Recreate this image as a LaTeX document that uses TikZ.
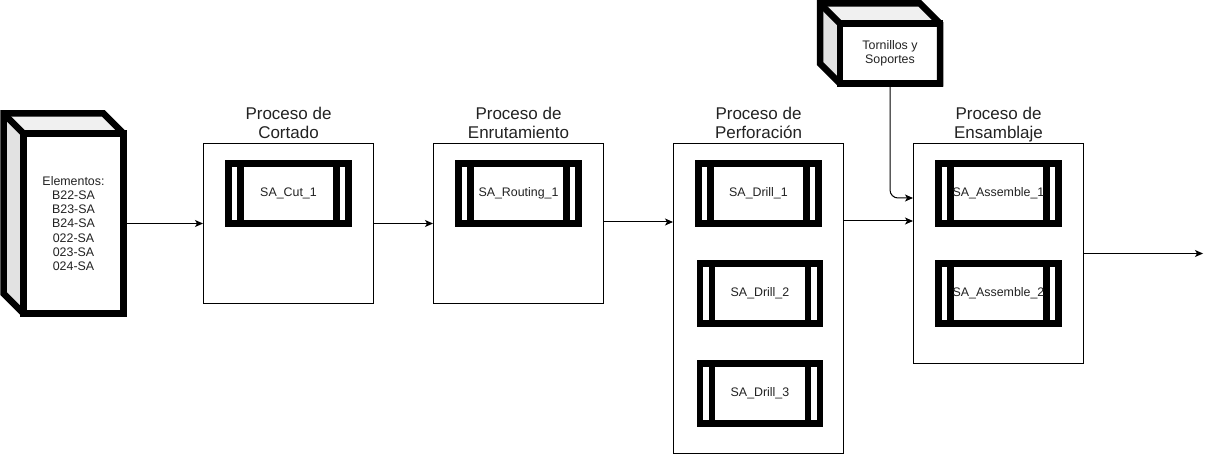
\documentclass[tikz,border=0pt]{standalone}
\usepackage{fontspec}
\setmainfont{Liberation Sans}
\usetikzlibrary{arrows.meta,calc}
\definecolor{txt}{HTML}{222222}
\definecolor{topface}{HTML}{F0F0F0}
\definecolor{sideface}{HTML}{E2E2E2}
\tikzset{
  small/.style={font=\fontsize{12.4}{14.2}\selectfont, text=txt},
  container/.style={draw=black, line width=1pt, fill=white, minimum width=170pt, inner sep=0pt},
  title/.style={font=\fontsize{17}{19}\selectfont, text=txt, align=center, anchor=south, inner sep=0pt},
  proc/.style={draw=black, line width=6.5pt, fill=white, minimum width=120pt, minimum height=60pt, inner sep=0pt, small,
    path picture={
      \draw[line width=6.5pt] ([xshift=12pt]path picture bounding box.north west) -- ([xshift=12pt]path picture bounding box.south west);
      \draw[line width=6.5pt] ([xshift=-12pt]path picture bounding box.north east) -- ([xshift=-12pt]path picture bounding box.south east);
    }},
  cubefront/.style={draw=black, line width=6.5pt, fill=white, inner sep=0pt, outer sep=0pt, align=center, small},
  cubeline/.style={line width=6.5pt, line join=miter},
  arr/.style={draw=black, line width=1pt, -{Stealth[length=8pt,width=7pt,inset=2pt]}}
}
\begin{document}
\begin{tikzpicture}[x=1pt,y=-1pt]
\useasboundingbox (0,0) rectangle (1214,454);

% --- left cube (Elementos)
\node[cubefront, minimum width=100pt, minimum height=180pt] (elem) at (73.5,223.5)
  {Elementos:\\B22-SA\\B23-SA\\B24-SA\\022-SA\\023-SA\\024-SA};
\fill[topface] (elem.north west) -- ++(-20,-20) -- ++(100,0) -- (elem.north east) -- cycle;
\fill[sideface] (elem.north west) -- ++(-20,-20) -- ++(0,180) -- (elem.south west) -- cycle;
\draw[cubeline] ($(elem.north west)+(-20,-20)$) -- ++(100,0) -- (elem.north east) -- (elem.south east)
  -- (elem.south west) -- ++(-20,-20) -- cycle;
\draw[cubeline] ($(elem.north west)+(-20,-20)$) -- (elem.north west) -- (elem.north east);
\draw[cubeline] (elem.north west) -- (elem.south west);

% --- top cube (Tornillos)
\node[cubefront, minimum width=100pt, minimum height=60pt] (torn) at (890,53.5)
  {Tornillos y\\Soportes};
\fill[topface] (torn.north west) -- ++(-20,-20) -- ++(100,0) -- (torn.north east) -- cycle;
\fill[sideface] (torn.north west) -- ++(-20,-20) -- ++(0,60) -- (torn.south west) -- cycle;
\draw[cubeline] ($(torn.north west)+(-20,-20)$) -- ++(100,0) -- (torn.north east) -- (torn.south east)
  -- (torn.south west) -- ++(-20,-20) -- cycle;
\draw[cubeline] ($(torn.north west)+(-20,-20)$) -- (torn.north west) -- (torn.north east);
\draw[cubeline] (torn.north west) -- (torn.south west);

% --- containers
\node[container, minimum height=160pt] (cort) at (288.5,223.5) {};
\node[container, minimum height=160pt] (enr) at (518.5,223.5) {};
\node[container, minimum height=310pt] (perf) at (758.5,298.5) {};
\node[container, minimum height=220pt] (ens) at (998.5,253.5) {};

\node[title] (tcort) at (288.5,144.7) {Proceso de\\Cortado\strut};
\node[title] (tenr) at (518.5,144.7) {Proceso de\\Enrutamiento\strut};
\node[title] (tperf) at (758.5,144.7) {Proceso de\\Perforación\strut};
\node[title] (tens) at (998.5,144.7) {Proceso de\\Ensamblaje\strut};

% --- process shapes
\node[proc] (cut1) at (288.5,193.5) {SA\_Cut\_1};
\node[proc] (rout1) at (518.5,193.5) {SA\_Routing\_1};
\node[proc] (drill1) at (758.5,193.5) {SA\_Drill\_1};
\node[proc] (drill2) at (760,293.5) {SA\_Drill\_2};
\node[proc] (drill3) at (760,393.5) {SA\_Drill\_3};
\node[proc] (asm1) at (998.5,193.5) {SA\_Assemble\_1};
\node[proc] (asm2) at (998.5,293.5) {SA\_Assemble\_2};

% --- connectors
\coordinate (out) at (1203,253.5);
\draw[arr] ([xshift=3.25pt]elem.east) -- (cort.west);
\draw[arr] (cort.east) -- (enr.west);
\draw[arr] ([yshift=1.5pt]enr.east) -- ([yshift=1.5pt]enr.east -| perf.west);
\draw[arr] ([yshift=77.5pt]perf.east) -- ([yshift=77.5pt]perf.east -| ens.west);
\draw[arr, rounded corners=8pt] ([yshift=-3.25pt]torn.south) |- ([yshift=55.5pt]ens.west);
\draw[arr] (ens.east) -- (out);
\end{tikzpicture}
\end{document}
